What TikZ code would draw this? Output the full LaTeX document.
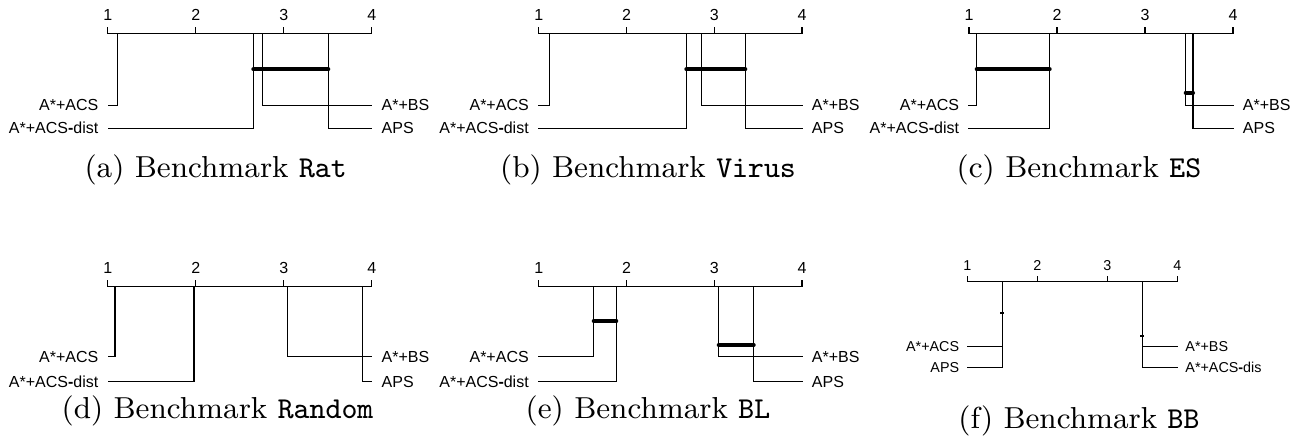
\documentclass[tikz,border=0pt]{standalone}
\usepackage{fontspec}
\setsansfont{Liberation Sans}
\tikzset{
  ln/.style={line width=0.4pt, line cap=rect},
  cd bar/.style={line width=1.2pt, line cap=round},
  lab/.style={font=\sffamily\fontsize{4.8}{5}\selectfont, inner sep=0pt},
  labs/.style={font=\sffamily\fontsize{4.3}{5}\selectfont, inner sep=0pt},
  curlab/.style={lab},
  capt/.style={font=\fontsize{9.1}{11}\selectfont, inner sep=0pt, anchor=base},
}
\newcommand\dsh{{\bfseries -}}
\def\cdgap{9.3}
\def\cddrop{5.4}
\def\cdtick{6}
% axis: name, xL, xR, y, digit baseline
\newcommand\cdaxis[5]{%
  \coordinate (#1L) at (#2,#4);
  \coordinate (#1R) at (#3,#4);
  \draw[ln] (#1L) -- (#1R);
  \foreach \i in {1,...,4}{%
    \pgfmathsetmacro\tx{#2+(\i-1)*(#3-#2)/3}
    \draw[ln] (\tx,#4) -- (\tx,#4-\cdtick);
    \node[curlab, anchor=base] (#1n\i) at (\tx,#5) {\i};
  }}
% method on left: name, x, axis y, row y, stub x, text
\newcommand\cdleft[6]{%
  \coordinate (#1t) at (#2,#3);
  \coordinate (#1s) at (#5,#4);
  \draw[ln] (#1t) |- (#1s);
  \node[curlab, anchor=base east] (#1) at (#5-\cdgap,#4+\cddrop) {#6};}
\newcommand\cdright[6]{%
  \coordinate (#1t) at (#2,#3);
  \coordinate (#1s) at (#5,#4);
  \draw[ln] (#1t) |- (#1s);
  \node[curlab, anchor=base west] (#1) at (#5+\cdgap,#4+\cddrop) {#6};}
\begin{document}
\begin{tikzpicture}[x=0.3pt, y=-0.3pt]
\useasboundingbox (0,0) rectangle (1296,440);
% (a)
\cdaxis{a}{107.7}{371.7}{33.3}{20.5}
\cdleft{a1}{117.3}{33.3}{105.3}{108.3}{A*+ACS}
\cdleft{a2}{253.3}{33.3}{128.3}{108.3}{A*+ACS\dsh dist}
\cdright{a3}{262.3}{33.3}{105.3}{371.7}{A*+BS}
\cdright{a4}{328.3}{33.3}{128.3}{371.7}{APS}
\coordinate (ab1) at (253.3,69.3); \coordinate (ab2) at (328.3,69.3);
\draw[cd bar] (ab1) -- (ab2);
\node[capt] (capa) at (215.7,177) {(a) Benchmark \texttt{Rat}};
% (b)
\cdaxis{b}{538.7}{802}{33.3}{20.5}
\cdleft{b1}{549.3}{33.3}{105.3}{538.7}{A*+ACS}
\cdleft{b2}{686.3}{33.3}{128.3}{538.7}{A*+ACS\dsh dist}
\cdright{b3}{701.3}{33.3}{105.3}{802}{A*+BS}
\cdright{b4}{745.3}{33.3}{128.3}{802}{APS}
\coordinate (bb1) at (686.3,69.3); \coordinate (bb2) at (745.3,69.3);
\draw[cd bar] (bb1) -- (bb2);
\node[capt] (capb) at (648,177) {(b) Benchmark \texttt{Virus}};
% (c)
\cdaxis{c}{969}{1233}{33.3}{20.5}
\cdleft{c1}{976.7}{33.3}{105.3}{969}{A*+ACS}
\cdleft{c2}{1049.7}{33.3}{128.3}{969}{A*+ACS\dsh dist}
\cdright{c3}{1185.7}{33.3}{105.3}{1233}{A*+BS}
\cdright{c4}{1193}{33.3}{128.3}{1233}{APS}
\coordinate (cb1) at (976.7,69.3); \coordinate (cb2) at (1049.7,69.3);
\draw[cd bar] (cb1) -- (cb2);
\coordinate (cb3) at (1185.7,92.7); \coordinate (cb4) at (1193,92.7);
\draw[cd bar] (cb3) -- (cb4);
\node[capt] (capc) at (1079,177) {(c) Benchmark \texttt{ES}};
% (d)
\cdaxis{d}{107.7}{371.7}{286.7}{273.5}
\cdleft{d1}{115}{286.7}{356.7}{108.3}{A*+ACS}
\cdleft{d2}{194}{286.7}{381.7}{108.3}{A*+ACS\dsh dist}
\cdright{d3}{287.7}{286.7}{356.7}{371.7}{A*+BS}
\cdright{d4}{362.7}{286.7}{381.7}{371.7}{APS}
\node[capt] (capd) at (217.5,418.5) {(d) Benchmark \texttt{Random}};
% (e)
\cdaxis{e}{538.7}{802}{286.7}{273.5}
\cdleft{e1}{593.7}{286.7}{356.7}{538.7}{A*+ACS}
\cdleft{e2}{616.3}{286.7}{381.7}{538.7}{A*+ACS\dsh dist}
\cdright{e3}{718.7}{286.7}{356.7}{802}{A*+BS}
\cdright{e4}{753.7}{286.7}{381.7}{802}{APS}
\coordinate (eb1) at (593.7,321); \coordinate (eb2) at (616.3,321);
\draw[cd bar] (eb1) -- (eb2);
\coordinate (eb3) at (718.7,345); \coordinate (eb4) at (753.7,345);
\draw[cd bar] (eb3) -- (eb4);
\node[capt] (cape) at (648,418.5) {(e) Benchmark \texttt{BL}};
% (f)
\tikzset{curlab/.style={labs}}
\def\cdgap{7.5}
\def\cddrop{4.9}
\def\cdtick{5}
\cdaxis{f}{967.3}{1177.3}{281.5}{270}
\cdleft{f1}{1002.3}{281.5}{346.7}{967.3}{A*+ACS}
\cdleft{f2}{1002.3}{281.5}{367.3}{967.3}{APS}
\cdright{f3}{1142.3}{281.5}{346.7}{1177.3}{A*+BS}
\cdright{f4}{1142.3}{281.5}{367.3}{1177.3}{A*+ACS\dsh dis}
\coordinate (fb1) at (1000.3,313.3); \coordinate (fb2) at (1004.3,313.3);
\draw[line width=0.7pt] (fb1) -- (fb2);
\coordinate (fb3) at (1140.3,336); \coordinate (fb4) at (1144.3,336);
\draw[line width=0.7pt] (fb3) -- (fb4);
\node[capt] (capf) at (1079,428.3) {(f) Benchmark \texttt{BB}};
\end{tikzpicture}
\end{document}
